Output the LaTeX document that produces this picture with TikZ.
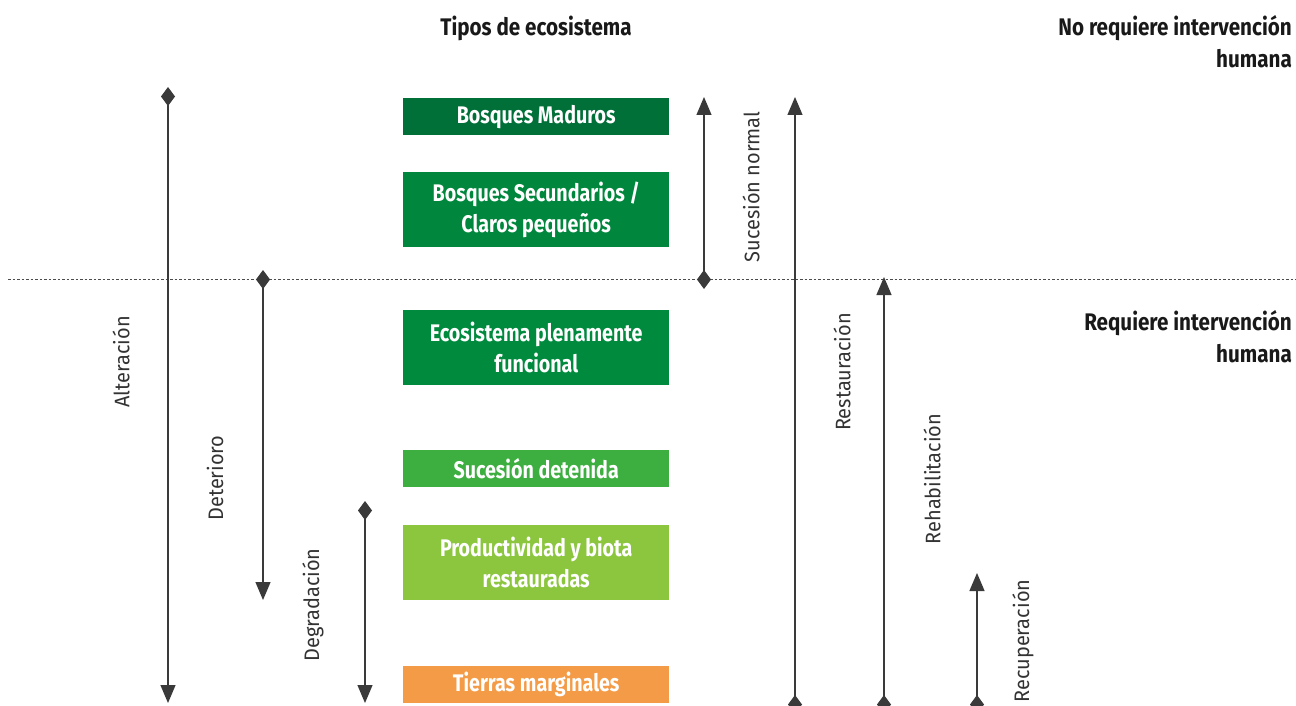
\documentclass[tikz,border=0pt]{standalone}
\usepackage{fontspec}
\setmainfont{Fira Sans}[FakeStretch=0.82]
\newfontfamily\headfont{Fira Sans}[FakeStretch=0.86]
\newfontfamily\lblfont{Fira Sans}[FakeStretch=0.95]
\usetikzlibrary{arrows.meta}
\definecolor{cA}{HTML}{006F38}
\definecolor{cB}{HTML}{00873D}
\definecolor{cC}{HTML}{008A3E}
\definecolor{cD}{HTML}{3DAE40}
\definecolor{cE}{HTML}{8CC63F}
\definecolor{cF}{HTML}{F39B47}
\definecolor{lnc}{HTML}{3A3A3A}
\begin{document}
\begin{tikzpicture}[x=1pt,y=-1pt,
  ecobox/.style={fill=#1, text=white, font=\bfseries\fontsize{24}{31}\selectfont, minimum width=266pt, align=center, inner sep=0pt, anchor=north west},
  head/.style={font=\headfont\bfseries\fontsize{24}{32}\selectfont, text=black!90, inner sep=0pt},
  lbl/.style={font=\lblfont\fontsize{21}{24}\selectfont, text=black!80, rotate=90, inner sep=0pt},
  conn/.style={draw=lnc, line width=1.2pt},
  dn/.style={conn, {Diamond[length=19pt,width=14pt]}-{Triangle[length=18pt,width=15pt]}},
  up/.style={conn, {Diamond[length=19pt,width=14pt]}-{Triangle[length=18pt,width=15pt]}}
]
\useasboundingbox (0,0) rectangle (1296,706);
\clip (0,0) rectangle (1296,706);
\fill[white] (0,0) rectangle (1296,706);

% headings
\node[head] (h1) at (536,28) {Tipos de ecosistema};
\node[head, anchor=north east, align=right] (h2) at (1292,15) {No requiere intervención\\humana};
\node[head, anchor=north east, align=right] (h3) at (1292,310) {Requiere intervención\\humana};

% dotted line
\coordinate (dl) at (8,279);
\coordinate (dr) at (1296,279);
\draw[draw=black!70, line width=0.8pt, dash pattern=on 2.5pt off 2pt] (dl) -- (dr);

% boxes
\node[ecobox=cA, minimum height=37pt] (b1) at (403,98) {Bosques Maduros};
\node[ecobox=cB, minimum height=75pt] (b2) at (403,172) {Bosques Secundarios /\\Claros pequeños};
\node[ecobox=cC, minimum height=75pt] (b3) at (403,310) {Ecosistema plenamente\\funcional};
\node[ecobox=cD, minimum height=37pt] (b4) at (403,450) {Sucesión detenida};
\node[ecobox=cE, minimum height=75pt] (b5) at (403,525) {Productividad y biota\\restauradas};
\node[ecobox=cF, minimum height=37pt] (b6) at (403,666) {Tierras marginales};

% arrow endpoints
\coordinate (a1s) at (168,87);  \coordinate (a1e) at (168,703);
\coordinate (a2s) at (263,270); \coordinate (a2e) at (263,600);
\coordinate (a3s) at (365,501); \coordinate (a3e) at (365,703);
\coordinate (a4s) at (704,289); \coordinate (a4e) at (704,97);
\coordinate (a5s) at (795,714); \coordinate (a5e) at (795,97);
\coordinate (a6s) at (884,714); \coordinate (a6e) at (884,277);
\coordinate (a7s) at (977,714); \coordinate (a7e) at (977,573);

\draw[dn] (a1s) -- (a1e);
\draw[dn] (a2s) -- (a2e);
\draw[dn] (a3s) -- (a3e);
\draw[up] (a4s) -- (a4e);
\draw[up] (a5s) -- (a5e);
\draw[up] (a6s) -- (a6e);
\draw[up] (a7s) -- (a7e);

% labels
\node[lbl] (l1) at (121,362) {Alteración};
\node[lbl] (l2) at (215,478) {Deterioro};
\node[lbl] (l3) at (313,605) {Degradación};
\node[lbl] (l4) at (751,187) {Sucesión normal};
\node[lbl] (l5) at (842,372) {Restauración};
\node[lbl] (l6) at (932,479) {Rehabilitación};
\node[lbl] (l7) at (1023,641) {Recuperación};
\end{tikzpicture}
\end{document}
